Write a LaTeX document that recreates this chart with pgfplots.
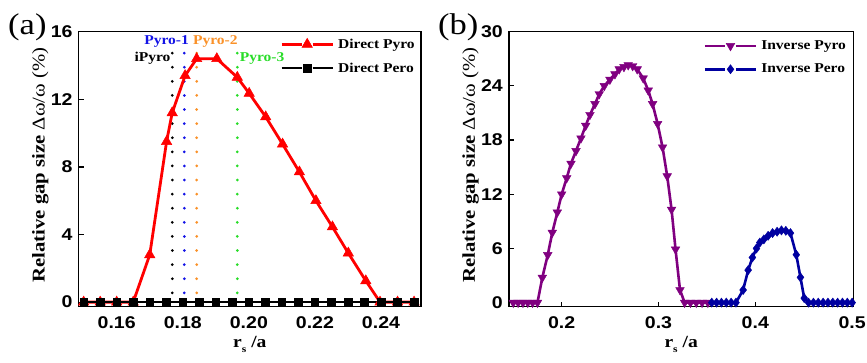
\documentclass[border=0pt]{standalone}
\usepackage{fontspec}
\setmainfont[FakeStretch=1.15]{Liberation Serif}
\newfontfamily\arial[FakeStretch=1.15]{Liberation Sans}
\usepackage{pgfplots}
\pgfplotsset{compat=1.18}
\definecolor{pyroorange}{RGB}{250,145,40}
\definecolor{pyrogreen}{RGB}{40,220,40}
\definecolor{pyroblue}{RGB}{20,20,230}
\definecolor{invpurple}{RGB}{128,0,128}
\definecolor{invnavy}{RGB}{0,0,160}
\pgfplotsset{
  panel/.style={
    scale only axis, height=275pt,
    axis line style={line width=1.3pt},
    every tick/.style={line width=1.2pt, black},
    tick align=inside, major tick length=5pt,
    xtick pos=bottom, ytick pos=left,
    tick label style={font=\arial\bfseries\fontsize{17}{17}\selectfont},
    yticklabel style={inner sep=0pt, xshift=-6pt},
    xticklabel style={inner sep=0pt, yshift=-10pt},
    ylabel={\bfseries Relative gap size {\mdseries Δω/ω (\%)}},
    ylabel style={at={(axis description cs:-0.087,0.515)}, anchor=south, inner sep=0pt, font=\fontsize{18}{18}\selectfont},
    xlabel={\bfseries r\raisebox{-0.55ex}{\fontsize{10}{10}\selectfont s} /a},
    xlabel style={at={(axis description cs:0.5,-0.150)}, anchor=base, inner sep=0pt, font=\fontsize{17}{17}\selectfont},
    legend style={draw=none, fill=none, inner sep=0pt, row sep=9pt,
      font=\bfseries\fontsize{13.5}{13.5}\selectfont,
      /tikz/every odd column/.append style={column sep=2pt}},
    legend cell align=left,
    legend image code/.code={
      \draw[##1, mark=none] (0pt,0pt) -- (20pt,0pt);
      \draw[##1, mark=none] (31pt,0pt) -- (51pt,0pt);
      \draw[##1] plot coordinates {(25.5pt,0pt)};
    },
  }
}
\begin{document}
\begin{tikzpicture}
\useasboundingbox (0,0) rectangle (867pt,363pt);
% ---------------- panel (a)
\begin{axis}[panel, at={(78.7pt,56.3pt)}, anchor=south west, width=342.3pt,
  xmin=0.1485, xmax=0.2521, ymin=-0.27, ymax=16,
  xtick={0.16,0.18,0.20,0.22,0.24}, xticklabels={0.16,0.18,0.20,0.22,0.24},
  ytick={0,4,8,12,16}, yticklabels={0,4,8,12,16},
  legend style={at={(0.988,0.982)}, anchor=north east}]
\addplot[black, line width=3pt, line cap=round, dash pattern=on 0pt off 14.1pt, forget plot] coordinates {(0.17683,0.55) (0.17683,14.8)};
\addplot[pyroblue, line width=3pt, line cap=round, dash pattern=on 0pt off 14.1pt, forget plot] coordinates {(0.18047,0.55) (0.18047,14.8)};
\addplot[pyroorange, line width=3pt, line cap=round, dash pattern=on 0pt off 14.1pt, forget plot] coordinates {(0.18421,0.55) (0.18421,14.8)};
\addplot[pyrogreen, line width=3pt, line cap=round, dash pattern=on 0pt off 14.1pt, forget plot] coordinates {(0.1965,0.55) (0.1965,14.8)};
\addplot[red, line width=2.8pt, mark=triangle*, mark size=6pt, mark options={solid, line width=0.5pt}] coordinates {
(0.150,0) (0.155,0) (0.160,0) (0.165,0) (0.170,2.8) (0.1751,9.5) (0.1768,11.2)
(0.1807,13.4) (0.1842,14.4) (0.1903,14.4) (0.1965,13.3) (0.2001,12.35) (0.2051,10.96)
(0.2102,9.35) (0.2153,7.7) (0.2203,6.0) (0.2253,4.45) (0.2301,2.9) (0.2354,1.26)
(0.2397,0) (0.245,0) (0.250,0)};
\addlegendentry{Direct Pyro}
\addplot[black, line width=2.4pt, mark=square*, mark size=3.8pt, mark options={solid, line width=0.5pt}] coordinates {
(0.150,0) (0.155,0) (0.160,0) (0.165,0) (0.170,0) (0.175,0) (0.180,0) (0.185,0)
(0.190,0) (0.195,0) (0.200,0) (0.205,0) (0.210,0) (0.215,0) (0.220,0) (0.225,0)
(0.230,0) (0.235,0) (0.240,0) (0.245,0) (0.250,0)};
\addlegendentry{Direct Pero}
\node[anchor=base, text=pyroblue, font=\bfseries\fontsize{13.5}{13.5}\selectfont, inner sep=0pt] at (axis cs:0.1751,15.25) {Pyro-1};
\node[anchor=base, text=pyroorange, font=\bfseries\fontsize{13.5}{13.5}\selectfont, inner sep=0pt] at (axis cs:0.18985,15.25) {Pyro-2};
\node[anchor=base, text=black, font=\bfseries\fontsize{13.5}{13.5}\selectfont, inner sep=0pt] at (axis cs:0.17084,14.23) {iPyro};
\node[anchor=base, text=pyrogreen, font=\bfseries\fontsize{13.5}{13.5}\selectfont, inner sep=0pt] at (axis cs:0.2040,14.23) {Pyro-3};
\end{axis}
\node[anchor=base west, inner sep=0pt, font=\fontsize{30}{30}\selectfont] at (8pt,328pt) {(a)};
% ---------------- panel (b)
\begin{axis}[panel, at={(509pt,56.3pt)}, anchor=south west, width=344.3pt,
  xmin=0.1456, xmax=0.5012, ymin=-0.45, ymax=30,
  xtick={0.2,0.3,0.4,0.5}, xticklabels={0.2,0.3,0.4,0.5},
  ytick={0,6,12,18,24,30}, yticklabels={0,6,12,18,24,30},
  legend style={at={(0.985,0.975)}, anchor=north east}]
\addplot[invpurple, line width=2.6pt, mark=triangle*, mark size=5pt, mark options={solid, rotate=180, line width=0.4pt}] coordinates {
(0.150,0) (0.155,0) (0.160,0) (0.165,0) (0.170,0) (0.175,0)
(0.180,2.77) (0.1856,5.28) (0.1903,7.75) (0.1955,10.0) (0.200,12.0) (0.2052,13.8)
(0.2096,15.4) (0.2148,16.8) (0.2199,18.2) (0.2248,19.6) (0.2292,20.8) (0.2344,22.0)
(0.2388,23.1) (0.244,24.0) (0.2498,24.7) (0.255,25.3) (0.2594,25.85) (0.2643,26.1)
(0.2687,26.3) (0.2733,26.2) (0.278,25.85) (0.2842,24.85) (0.2894,23.5) (0.2939,22.0)
(0.2991,19.8) (0.3042,17.2) (0.309,14.0) (0.3135,10.3) (0.3176,5.9) (0.3222,1.4)
(0.327,0) (0.333,0) (0.339,0) (0.345,0) (0.351,0)};
\addlegendentry{Inverse Pyro}
\addplot[invnavy, line width=2.6pt, mark=diamond*, mark size=4.6pt, mark options={solid, line width=0.4pt}] coordinates {
(0.355,0) (0.360,0) (0.365,0) (0.370,0) (0.375,0) (0.380,0)
(0.3874,1.4) (0.3926,3.6) (0.397,5.0) (0.4012,6.0) (0.4046,6.65) (0.4088,7.0)
(0.4132,7.4) (0.4178,7.7) (0.4225,7.85) (0.427,8.0) (0.4315,7.95) (0.4363,7.7)
(0.4423,5.3) (0.4466,2.8) (0.4505,0.5)
(0.455,0) (0.460,0) (0.465,0) (0.470,0) (0.475,0) (0.480,0) (0.485,0) (0.490,0) (0.495,0) (0.500,0)};
\addlegendentry{Inverse Pero}
\end{axis}
\node[anchor=base west, inner sep=0pt, font=\fontsize{30}{30}\selectfont] at (438pt,328pt) {(b)};
\end{tikzpicture}
\end{document}
